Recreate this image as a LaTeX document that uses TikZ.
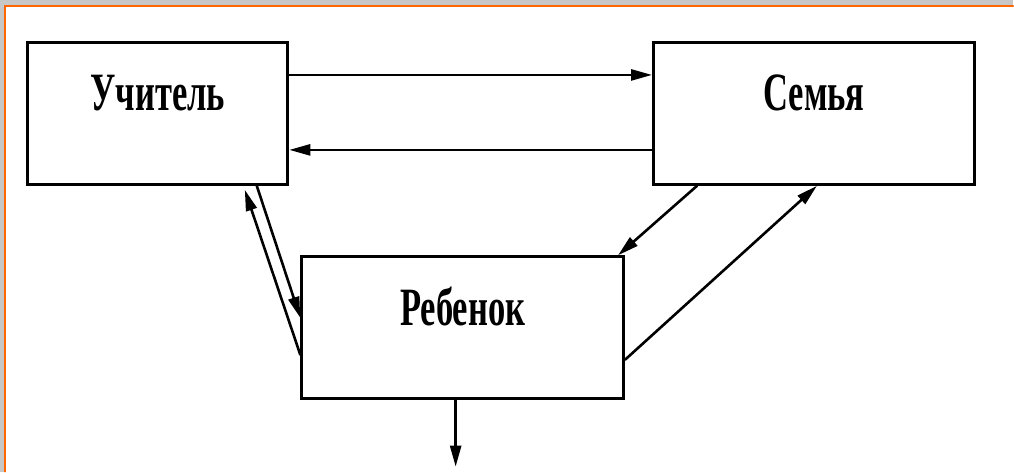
\documentclass[tikz,border=0pt]{standalone}
\usepackage{fontspec}
\setmainfont{Liberation Serif}
\usetikzlibrary{arrows.meta}

\begin{document}
\begin{tikzpicture}[%
        > = {Triangle[length=21pt, width=11pt]},
        x = 1pt, y = -1pt,
        line cap = round,
        box/.style = {draw, line width = 3pt, minimum width = #1,
            minimum height = 142pt, inner sep = 0pt,
            text height = 36pt, text depth = 41pt,
            font = \fontsize{54pt}{60pt}\selectfont\bfseries},
        link/.style = {->, line width = 2.6pt}
    ]

        % Frame of the slide.
        \fill[black!22] (0, 0) rectangle (1014, 472);
        \fill[white] (5, 6) rectangle (1014, 472);
        \draw[orange!80!red, line width = 1.5pt] (5, 472) to (5, 6) to (1014, 6);

        % The three boxes.
        \node[box = 260pt] (teacher) at (158, 113.5) {\scalebox{0.64}[1]{Учитель}};
        \node[box = 321pt] (family)  at (814.5, 113.5) {\scalebox{0.64}[1]{Семья}};
        \node[box = 322pt] (child)   at (463, 328) {\scalebox{0.64}[1]{Ребенок}};
        \coordinate (out) at (456, 467);

        % Links between the boxes (shifts are in page directions).
        \draw[link] ([yshift = 38.5pt]teacher.east) to ([yshift = 38.5pt]family.west);
        \draw[link] ([yshift = -36.5pt]family.west) to ([yshift = -36.5pt]teacher.east);
        \draw[link] ([xshift = 99pt]teacher.south) to ([yshift = 10pt]child.west);
        \draw[link] ([yshift = -27pt]child.west) to ([xshift = 87pt, yshift = -4pt]teacher.south);
        \draw[link] ([xshift = -117pt]family.south) to ([xshift = -7pt]child.north east);
        \draw[link] ([yshift = -32pt]child.east) to ([xshift = 3pt]family.south);
        \draw[link] (child.south -| out) to (out);
    \end{tikzpicture}
\end{document}
